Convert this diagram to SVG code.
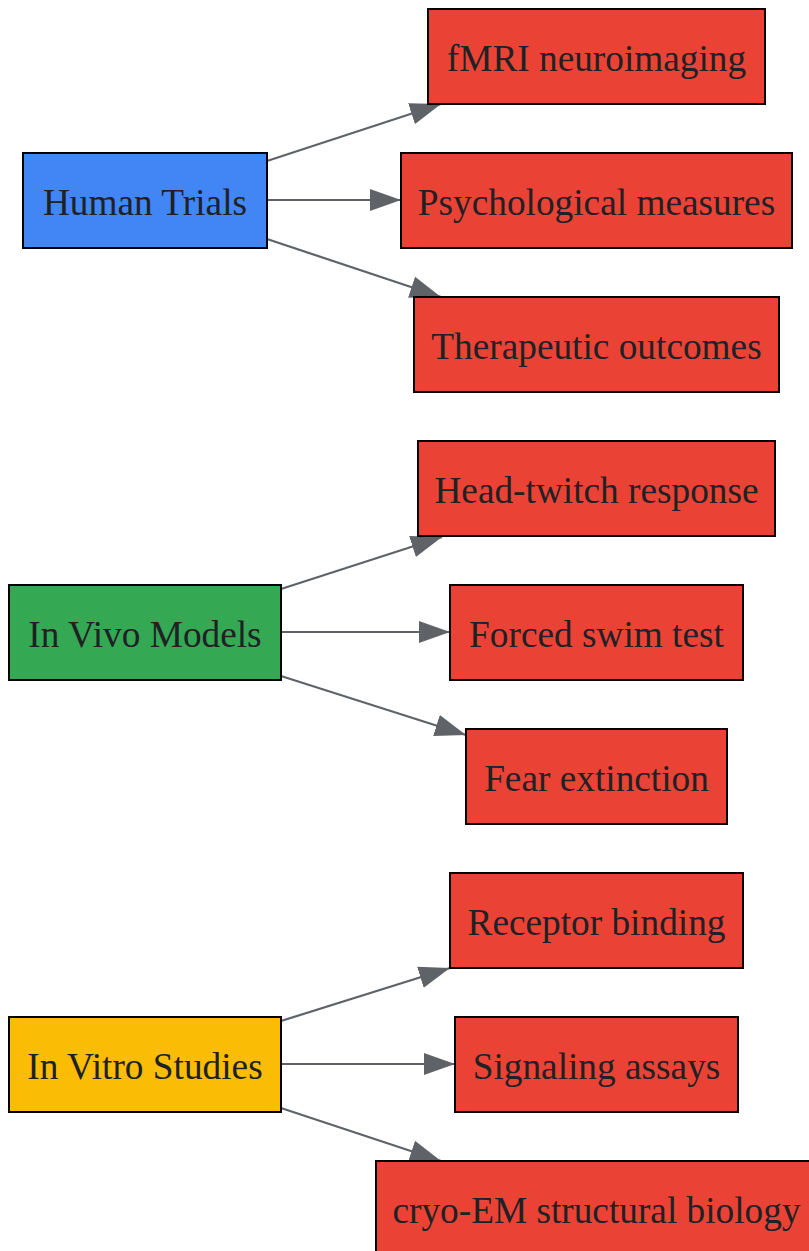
<svg xmlns="http://www.w3.org/2000/svg" width="809" height="1251" viewBox="0 0 809 1251">
<style>
.n rect{stroke:#000;stroke-width:2}
.n text{font-family:"Liberation Serif",serif;font-size:37.3px;fill:#202124;text-anchor:middle;dominant-baseline:central}
.r rect{fill:#EA4335}
#edges path{stroke:#5f6368;stroke-width:2.2;fill:none;marker-end:url(#ah)}
</style>
<defs>
<marker id="ah" markerUnits="userSpaceOnUse" markerWidth="32" markerHeight="22" refX="31" refY="11" orient="auto" viewBox="0 0 32 22">
<path d="M0,0 L31,11 L0,22 Z" fill="#5f6368"/>
</marker>
</defs>
<rect width="809" height="1251" fill="#fff"/>
<g id="edges">
<path d="M267,161 L441,104"/>
<path d="M267,200 L401,200"/>
<path d="M267,239 L441,297"/>
<path d="M281,589 L442,537"/>
<path d="M281,632 L450,632"/>
<path d="M281,676 L466,735"/>
<path d="M281,1021 L450,968"/>
<path d="M281,1064 L455,1064"/>
<path d="M281,1108 L441,1161"/>
</g>
<g id="human" class="n"><rect x="23" y="153" width="244" height="95" fill="#4285F4"/><text x="145" y="202">Human Trials</text></g>
<g id="fmri" class="n r"><rect x="428" y="9" width="337" height="95"/><text x="596.5" y="58">fMRI neuroimaging</text></g>
<g id="psych" class="n r"><rect x="401" y="153" width="391" height="95"/><text x="596.5" y="202">Psychological measures</text></g>
<g id="thera" class="n r"><rect x="414" y="297" width="365" height="95"/><text x="596.5" y="346">Therapeutic outcomes</text></g>
<g id="invivo" class="n"><rect x="9" y="585" width="272" height="95" fill="#34A853"/><text x="145" y="634">In Vivo Models</text></g>
<g id="head" class="n r"><rect x="418" y="441" width="357" height="95"/><text x="596.5" y="490">Head-twitch response</text></g>
<g id="swim" class="n r"><rect x="450" y="585" width="293" height="95"/><text x="596.5" y="634">Forced swim test</text></g>
<g id="fear" class="n r"><rect x="466" y="729" width="261" height="95"/><text x="596.5" y="778">Fear extinction</text></g>
<g id="invitro" class="n"><rect x="9" y="1017" width="272" height="95" fill="#FBBC05"/><text x="145" y="1066">In Vitro Studies</text></g>
<g id="receptor" class="n r"><rect x="450" y="873" width="293" height="95"/><text x="596.5" y="922">Receptor binding</text></g>
<g id="signal" class="n r"><rect x="455" y="1017" width="283" height="95"/><text x="596.5" y="1066">Signaling assays</text></g>
<g id="cryo" class="n r"><rect x="376" y="1161" width="436" height="95"/><text x="596.5" y="1210">cryo-EM structural biology</text></g>
</svg>
